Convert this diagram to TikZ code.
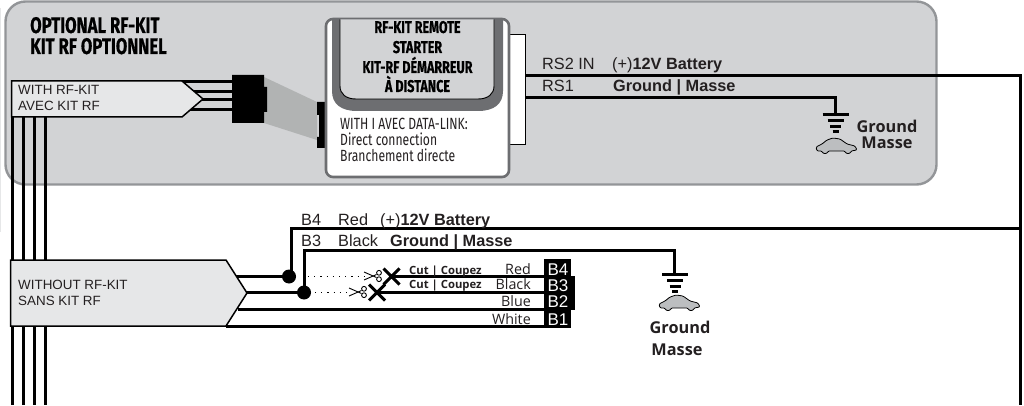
\documentclass[tikz,border=0pt]{standalone}
\usepackage{fontspec}
\setmainfont{Liberation Sans}
\newfontfamily\opensf{Open Sans}
\newfontfamily\dinf[FakeStretch=0.75]{Fira Sans}
\newfontfamily\dinb[FakeStretch=0.74,BoldFeatures={FakeBold=0.6}]{Fira Sans}
\definecolor{panelfill}{HTML}{D2D3D5}
\definecolor{panelline}{HTML}{939598}
\definecolor{darkgrey}{HTML}{6D6E71}
\definecolor{boxfill}{HTML}{E6E7E8}
\definecolor{inktext}{HTML}{231F20}
\definecolor{plug}{HTML}{B1B3B3}
\definecolor{carfill}{HTML}{BCBEC0}
\tikzset{
  wire/.style={draw=black,line width=2.6pt},
  harness/.style={draw=black,line width=1.5pt,fill=boxfill},
  lab/.style={inner sep=0pt,anchor=base west,text=inktext,font=\fontsize{16.3}{18}\selectfont},
  labr/.style={inner sep=0pt,anchor=base east,text=inktext,font=\opensf\fontsize{14.3}{16}\selectfont},
  boxlab/.style={inner sep=0pt,anchor=base west,text=inktext,font=\fontsize{13.4}{16}\selectfont},
  cut/.style={inner sep=0pt,anchor=base west,text=inktext,font=\opensf\bfseries\fontsize{11.3}{12}\selectfont},
  gndlab/.style={inner sep=0pt,anchor=base,text=inktext,font=\opensf\bfseries\fontsize{16.3}{18}\selectfont},
  modtitle/.style={inner sep=0pt,anchor=base,text=black,font=\dinb\bfseries\fontsize{17}{18}\selectfont},
  modtext/.style={inner sep=0pt,anchor=base west,text=inktext,font=\dinf\fontsize{16.2}{18}\selectfont},
  title/.style={inner sep=0pt,anchor=base west,text=black,font=\dinb\bfseries\fontsize{22.5}{24}\selectfont},
  blab/.style={inner sep=0pt,anchor=base,text=white,font=\fontsize{17}{18}\selectfont},
  dotwire/.style={draw=black,line width=1.2pt,dash pattern=on 1.2pt off 5pt},
  groundsym/.pic={
    \draw[line width=2.6pt] (-13,0) -- (13,0);
    \draw[line width=2.6pt] (-8,6) -- (8,6);
    \draw[line width=2.6pt] (-5.5,12) -- (5.5,12);
    \draw[line width=2.6pt] (-3,17) -- (3,17);
  },
  carsym/.pic={
    \draw[line width=.8pt,fill=carfill,rounded corners=1.2pt]
      (1,13) -- (0,9) -- (6,6) -- (11,2) -- (17,0) -- (24,1) -- (31,6) -- (39,8) -- (41,12)
      -- (35,13) .. controls (34,16) and (30,16) .. (29,13) -- (12,13)
      .. controls (11,16) and (7,16) .. (6,13) -- cycle;
  },
  scissorsym/.pic={
    \draw[line width=.9pt] (-9,-4) -- (3.5,1.5) (-9,4) -- (3.5,-1.5);
    \draw[line width=.9pt] (6,3.2) circle (2.4) (6,-3.2) circle (2.4);
  },
  xmark/.pic={
    \draw[line width=3pt] (-8,-8) -- (8,8) (-8,8) -- (8,-8);
  }
}
\begin{document}
\begin{tikzpicture}[x=1pt,y=-1pt,line join=miter]
\useasboundingbox (0,0) rectangle (1024,406);
% faint strip at left
\fill[panelfill!55] (0,8) rectangle (1.4,232);
% panel
\draw[draw=panelline,fill=panelfill,line width=2.4pt,rounded corners=20pt] (5.5,1.5) rectangle (936.5,184.5);
\node[title] (t1) at (30,33) {OPTIONAL RF-KIT};
\node[title] (t2) at (30,54) {KIT RF OPTIONNEL};

% coordinates for wires
\coordinate (w1t) at (12.5,117); \coordinate (w1b) at (12.5,405);
\coordinate (w2t) at (23.5,117); \coordinate (w2b) at (23.5,405);
\coordinate (w3t) at (34.5,117); \coordinate (w3b) at (34.5,405);
\coordinate (w4t) at (45.5,117); \coordinate (w4b) at (45.5,405);
\foreach \i in {1,2,3,4} \draw[wire] (w\i t) -- (w\i b);

% plug beam
\fill[plug] (264,77) -- (317,102) -- (317,140) -- (264,123) -- cycle;

% RF wires to connector
\coordinate (a1) at (182,81.5);  \coordinate (a1e) at (233,81.5);
\coordinate (a2) at (190,91.5);  \coordinate (a2e) at (233,91.5);
\coordinate (a3) at (200,99.5);  \coordinate (a3e) at (233,99.5);
\coordinate (a4) at (190,109.5); \coordinate (a4e) at (233,109.5);
\foreach \i in {1,2,3,4} \draw[wire] (a\i) -- (a\i e);

% left connector
\fill[black] (232,75) -- (264,75) -- (264,87) -- (267,87) -- (267,112) -- (264,112) -- (264,123) -- (232,123) -- cycle;
% right connector
\fill[black] (317,102) -- (328,102) -- (328,148) -- (317,148) -- (317,137) -- (319,137) -- (319,115) -- (317,115) -- cycle;

% RF box
\draw[harness] (11.5,81) -- (182,81) -- (203,99) -- (182,117) -- (11.5,117) -- cycle;
\node[boxlab] (with) at (18,95) {WITH RF-KIT};
\node[boxlab] (avec) at (18,110.5) {AVEC KIT RF};

% side box
\draw[draw=black,fill=white,line width=1.2pt] (505,34.5) rectangle (525.5,144.5);
% module
\draw[draw=darkgrey,fill=white,line width=2.6pt,rounded corners=7pt] (326,19) rectangle (509,177);
\fill[darkgrey] (332,20) -- (503,20) -- (503,91) .. controls (503,104) and (494,111) .. (478,111)
   -- (357,111) .. controls (341,111) and (332,104) .. (332,91) -- cycle;
\draw[draw=black,fill=panelfill,line width=.9pt] (340,19.5) -- (340,86) .. controls (340,94) and (346,99) .. (356,99)
   -- (478,99) .. controls (488,99) and (494,94) .. (494,86) -- (494,19.5);
\node[modtitle] (m1) at (417.5,33) {RF-KIT REMOTE};
\node[modtitle] (m2) at (417.5,53) {STARTER};
\node[modtitle] (m3) at (417.5,73) {KIT-RF DÉMARREUR};
\node[modtitle] (m4) at (417.5,92) {À DISTANCE};
\node[modtext] (d1) at (340,130) {WITH I AVEC DATA-LINK:};
\node[modtext] (d2) at (340,146) {Direct connection};
\node[modtext] (d3) at (340,162) {Branchement directe};

% RS wires
\coordinate (rs2) at (526,75.5); \coordinate (corner) at (1020.5,75.5); \coordinate (cornerb) at (1020.5,405);
\coordinate (rs1) at (526,97.5); \coordinate (g1c) at (835.5,97.5); \coordinate (g1) at (835.5,114.5);
\draw[wire] (rs2) -- (corner) -- (cornerb);
\draw[wire] (rs1) -- (g1c) -- (g1);
\node[lab] (rs2t) at (542,70) {RS2 IN};
\node[lab] (rs2v) at (612,70) {(+)\textbf{12V Battery}};
\node[lab] (rs1t) at (542,92) {RS1};
\node[lab] (rs1v) at (613,92) {\textbf{Ground | Masse}};
\pic at (835.5,114.5) {groundsym};
\pic at (816,138) {carsym};
\node[gndlab] (gd1) at (887,133) {Ground};
\node[gndlab] (gd2) at (887,149) {Masse};

% B wires
\coordinate (d4) at (289,276.5); \coordinate (d3c) at (304,292.5);
\coordinate (b4a) at (236,276.5); \coordinate (b3a) at (245,292.5);
\coordinate (b2a) at (238,309.5); \coordinate (b1a) at (226,326.5);
\coordinate (b4x) at (391.5,276.5); \coordinate (b4e) at (545,276.5);
\coordinate (b3x) at (377,292.5); \coordinate (b3e) at (545,292.5);
\coordinate (b2e) at (545,309.5); \coordinate (b1e) at (545,326.5);
\coordinate (up4) at (291.5,228.5); \coordinate (up3) at (304.5,250.5);
\coordinate (g2c) at (674.5,250.5); \coordinate (g2) at (674.5,274.5);
\draw[wire] (b4a) -- (d4);
\draw[wire] (b3a) -- (d3c);
\draw[wire] (b2a) -- (b2e);
\draw[wire] (b1a) -- (b1e);
\draw[wire] (b4x) -- (b4e);
\draw[wire] (b3x) -- (b3e);
\draw[wire] (d4 -| up4) -- (up4) -- (cornerb |- up4);
\draw[wire] (d3c -| up3) -- (up3) -- (g2c) -- (g2);
\fill[black] (d4) circle (7);
\fill[black] (d3c) circle (7);
\draw[dotwire] (308,276.5) -- (364,276.5);
\draw[dotwire] (315,292.5) -- (349,292.5);
\pic at (373,276) {scissorsym};
\pic at (358,292) {scissorsym};
\pic at (b4x) {xmark};
\pic at (b3x) {xmark};

% Without box
\draw[harness] (10.5,260) -- (226,260) -- (247,293) -- (226,326) -- (10.5,326) -- cycle;
\node[boxlab] (wo) at (18,289) {WITHOUT RF-KIT};
\node[boxlab] (sa) at (18,305) {SANS KIT RF};

% labels
\node[lab] (b4l) at (301,225) {B4};
\node[lab] (b4c) at (338,225) {Red};
\node[lab] (b4v) at (380,225) {(+)\textbf{12V Battery}};
\node[lab] (b3l) at (301,246) {B3};
\node[lab] (b3c) at (338,246) {Black};
\node[lab] (b3v) at (390,246) {\textbf{Ground | Masse}};
\node[cut] (c1) at (409,274) {Cut | Coupez};
\node[cut] (c2) at (409,288) {Cut | Coupez};
\node[labr] (cr) at (531,274) {Red};
\node[labr] (cb) at (531,289) {Black};
\node[labr] (cu) at (531,306) {Blue};
\node[labr] (cw) at (531,324) {White};

% terminal block
\fill[black] (544,259) rectangle (571,276);
\fill[black] (544,276) rectangle (575,310);
\fill[black] (544,310) rectangle (571,328);
\node[blab] (tb4) at (558,275) {B4};
\node[blab] (tb3) at (558,291) {B3};
\node[blab] (tb2) at (558,307) {B2};
\node[blab] (tb1) at (558,325) {B1};

% second ground
\pic at (675,274.5) {groundsym};
\pic at (659,295) {carsym};
\node[gndlab] (gd3) at (680,333) {Ground};
\node[gndlab] (gd4) at (677,355) {Masse};
\end{tikzpicture}
\end{document}
